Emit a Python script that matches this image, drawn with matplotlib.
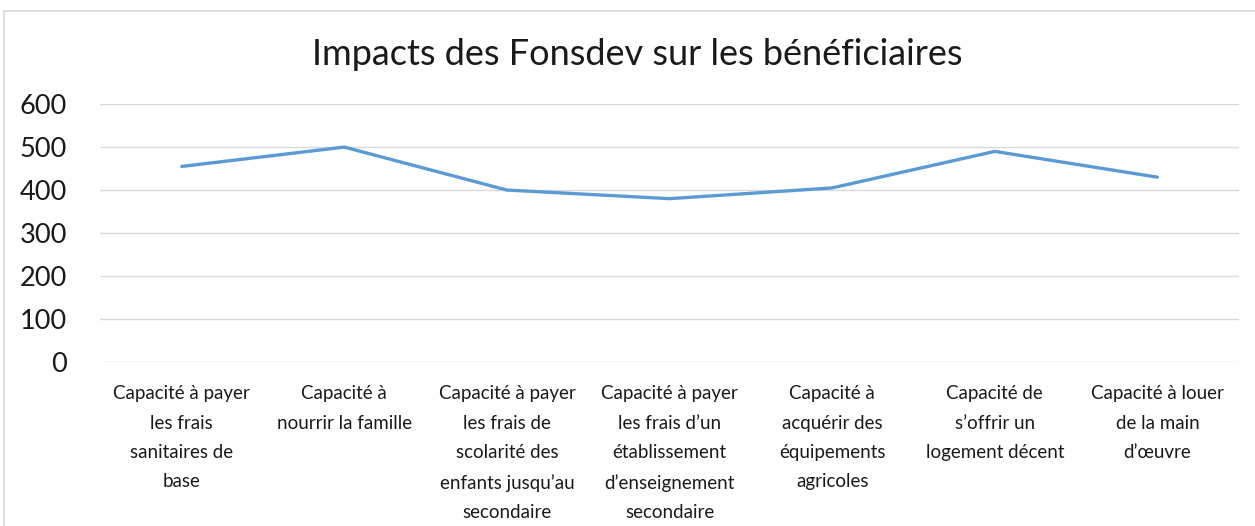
import matplotlib.pyplot as plt
from matplotlib.patches import Rectangle

plt.rcParams['font.family'] = ['Lato', 'DejaVu Sans']

# Data
categories = [
    "Capacité à payer\nles frais\nsanitaires de\nbase",
    "Capacité à\nnourrir la famille",
    "Capacité à payer\nles frais de\nscolarité des\nenfants jusqu\u2019au\nsecondaire",
    "Capacité à payer\nles frais d\u2019un\nétablissement\nd\u2019enseignement\nsecondaire",
    "Capacité à\nacquérir des\néquipements\nagricoles",
    "Capacité de\ns\u2019offrir un\nlogement décent",
    "Capacité à louer\nde la main\nd\u2019œuvre",
]
values = [455, 500, 400, 380, 405, 490, 430]
yticks = [0, 100, 200, 300, 400, 500, 600]

fig = plt.figure(figsize=(12.55, 5.26), dpi=100)
ax = fig.add_axes([0.080, 0.312, 0.907, 0.490])

# chart frame
fig.patches.append(Rectangle((0.003, -0.05), 1.2, 1.03, transform=fig.transFigure,
                             fill=False, edgecolor='#D9D9D9', linewidth=1.2))

x = range(len(values))
ax.plot(x, values, color='#5B9BD5', linewidth=2.4, solid_capstyle='round')

ax.set_xlim(-0.5, len(values) - 0.5)
ax.set_ylim(0, 600)
ax.set_yticks(yticks)
ax.set_yticklabels([str(v) for v in yticks], fontsize=19.5, color='#1a1a1a')
ax.set_xticks(list(x))
ax.set_xticklabels(categories, fontsize=13.5, linespacing=1.88, va='top', color='#1a1a1a')
ax.tick_params(length=0)
ax.tick_params(axis='y', pad=24)
ax.tick_params(axis='x', pad=17)
ax.grid(axis='y', color='#D9D9D9', linewidth=1)
ax.set_axisbelow(True)
for s in ax.spines.values():
    s.set_visible(False)

fig.text(0.508, 0.896, "Impacts des Fonsdev sur les bénéficiaires", ha='center',
         va='center', fontsize=26, color='#1a1a1a')

fig.savefig('out.png', dpi=100)
